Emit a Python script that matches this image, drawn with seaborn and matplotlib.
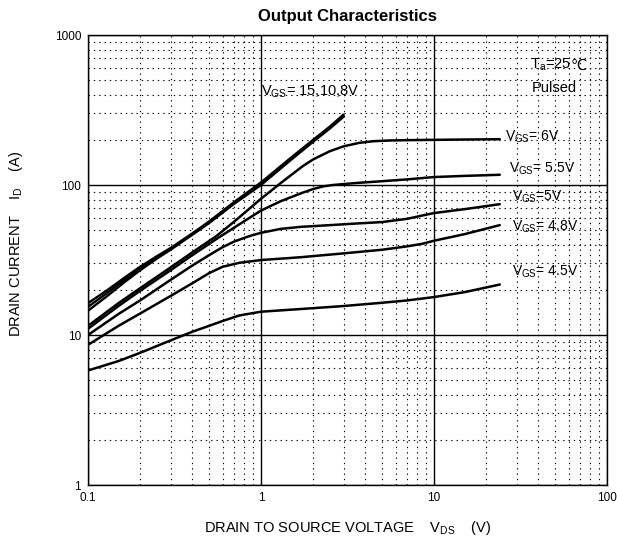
import numpy as np
import pandas as pd
import matplotlib
matplotlib.use("Agg")
import matplotlib.pyplot as plt
import seaborn as sns
from matplotlib.ticker import LogLocator, NullFormatter

# ---------------- data ----------------
vds_bundle = [0.1, 0.13, 0.16, 0.2, 0.25, 0.3, 0.4, 0.5, 0.7, 1.0, 1.5, 2.0, 2.5, 3.0]
id_15v = [16.3, 20.0, 23.8, 28.5, 33.5, 38.0, 47.5, 57.0, 77.0, 104, 153, 200, 245, 295]
id_10v = [15.4, 19.2, 23.0, 27.7, 32.9, 37.5, 47.0, 56.3, 76.0, 102, 151, 197, 242, 290]
id_8v = [14.5, 18.3, 22.2, 27.0, 32.3, 37.0, 46.5, 55.6, 75.0, 100, 148, 194, 238, 285]

vds_6v = [0.1, 0.15, 0.2, 0.3, 0.4, 0.55, 0.7, 0.85, 1.0, 1.15, 1.3, 1.5, 1.75, 2.0,
          2.5, 3.0, 3.7, 4.5, 5.5, 7, 10, 15, 24]
id_6v = [11.5, 16.3, 20.5, 28.2, 35.5, 45.5, 57, 69, 81, 92, 103, 117, 134, 148,
         168, 181, 191, 196, 198, 199, 200, 201, 202]

vds_55v = [0.1, 0.15, 0.2, 0.3, 0.4, 0.55, 0.7, 0.85, 1.0, 1.3, 1.7, 2.0, 2.3, 2.6,
           3.5, 5, 7, 10, 15, 24]
id_55v = [11.0, 15.6, 19.7, 27.0, 34.0, 43.5, 52, 60, 67.5, 78, 88, 94, 98, 100,
          103, 106, 109, 113, 115, 117]

vds_5v = [0.1, 0.15, 0.2, 0.3, 0.4, 0.5, 0.6, 0.7, 0.85, 1.0, 1.3, 1.7, 2.5, 3.5,
          5, 7, 8.5, 10, 15, 24]
id_5v = [10.0, 13.8, 17.0, 23.3, 29.0, 34.0, 38.5, 42.0, 45.5, 48.0, 51.0, 52.6, 54.0, 55.3,
         56.6, 59.5, 62.5, 65.0, 69.0, 74.5]

vds_48v = [0.1, 0.15, 0.2, 0.3, 0.4, 0.5, 0.6, 0.75, 1.0, 1.7, 3, 5, 7, 8.5, 10, 15, 24]
id_48v = [8.6, 11.5, 13.9, 18.2, 22.1, 25.8, 28.5, 30.3, 31.6, 33.0, 35.0, 37.0, 39.0,
          40.5, 42.5, 47.0, 54.0]

vds_45v = [0.1, 0.15, 0.2, 0.3, 0.4, 0.5, 0.6, 0.75, 1.0, 1.7, 3, 5, 7, 10, 15, 24]
id_45v = [5.8, 6.7, 7.6, 9.2, 10.5, 11.5, 12.4, 13.5, 14.3, 14.9, 15.6, 16.4, 17.0,
          17.9, 19.3, 21.7]

x_ticks = [0.1, 1, 10, 100]
x_tick_labels = ["0.1", "1", "10", "100"]
y_ticks = [1, 10, 100, 1000]
y_tick_labels = ["1", "10", "100", "1000"]

# ---------------- style ----------------
sns.set_style("white")
plt.rcParams['font.family'] = ['Liberation Sans', 'DejaVu Sans']
plt.rcParams['mathtext.default'] = 'regular'
plt.rcParams['text.color'] = 'black'
plt.rcParams['axes.labelcolor'] = 'black'
plt.rcParams['xtick.color'] = 'black'
plt.rcParams['ytick.color'] = 'black'

fig = plt.figure(figsize=(6.17, 5.43), dpi=100)
ax = fig.add_axes([88 / 617, 1 - 485 / 543, (607 - 88) / 617, (485 - 35) / 543])

curves = [
    (vds_bundle, id_15v, 1.7),
    (vds_bundle, id_10v, 1.7),
    (vds_bundle, id_8v, 1.7),
    (vds_6v, id_6v, 1.8),
    (vds_55v, id_55v, 1.8),
    (vds_5v, id_5v, 1.8),
    (vds_48v, id_48v, 1.8),
    (vds_45v, id_45v, 1.8),
]
for xs, ys, lw in curves:
    df = pd.DataFrame({"Vds": xs, "Id": ys})
    sns.lineplot(data=df, x="Vds", y="Id", ax=ax, color="black", lw=lw,
                 estimator=None, sort=False)

ax.set_xscale("log")
ax.set_yscale("log")
ax.set_xlim(0.1, 100)
ax.set_ylim(1, 1000)

ax.set_xticks(x_ticks)
ax.set_xticklabels(x_tick_labels)
ax.set_yticks(y_ticks)
ax.set_yticklabels(y_tick_labels)
ax.xaxis.set_minor_locator(LogLocator(base=10, subs=np.arange(2, 10)))
ax.yaxis.set_minor_locator(LogLocator(base=10, subs=np.arange(2, 10)))
ax.xaxis.set_minor_formatter(NullFormatter())
ax.yaxis.set_minor_formatter(NullFormatter())

ax.tick_params(which="both", direction="in", colors="black", labelsize=8.5, pad=5)
ax.tick_params(which="major", length=5, width=1)
ax.tick_params(which="minor", length=3, width=0.8)

ax.grid(which="major", color="black", lw=1.0, ls="-")
ax.grid(which="minor", color="black", lw=0.8, ls=(0, (1.2, 3.6)))
ax.set_axisbelow(True)

for s in ax.spines.values():
    s.set_color("black")
    s.set_linewidth(1.0)
    s.set_visible(True)

ax.set_title("Output Characteristics", fontsize=12, fontweight="bold", pad=10)
ax.set_xlabel("DRAIN TO SOURCE VOLTAGE    $V_{DS}$    (V)", fontsize=10.5, labelpad=11)
ax.set_ylabel("DRAIN CURRENT    $I_{D}$    (A)", fontsize=10.5)
ax.yaxis.set_label_coords(-0.122, 0.535)

# annotations
ax.text(1.0, 417, "$V_{GS}$= 15,10,8V", fontsize=10.5, va="center", ha="left")
t_a = ax.text(36, 631, "$T_{a}$=25", fontsize=10.5, va="center", ha="left")
ax.text(36.5, 443, "Pulsed", fontsize=10.5, va="center", ha="left")
ax.text(25.7, 209, "$V_{GS}$= 6V", fontsize=10, va="center", ha="left")
ax.text(27.2, 128, "$V_{GS}$= 5.5V", fontsize=10, va="center", ha="left")
ax.text(28.2, 83, "$V_{GS}$=5V", fontsize=10, va="center", ha="left")
ax.text(28.2, 52.5, "$V_{GS}$= 4.8V", fontsize=10, va="center", ha="left")
ax.text(28.2, 26.3, "$V_{GS}$= 4.5V", fontsize=10, va="center", ha="left")

# degree-Celsius sign placed right after the T_a text (DejaVu has the glyph)
fig.canvas.draw()
bb = t_a.get_window_extent()
ax.annotate("\u2103", xy=(36, 631), xycoords="data",
            xytext=(bb.width * 72 / fig.dpi - 0.5, 0), textcoords="offset points",
            fontsize=10.5, family="DejaVu Sans", va="center", ha="left")

fig.savefig("out.png", dpi=100)
